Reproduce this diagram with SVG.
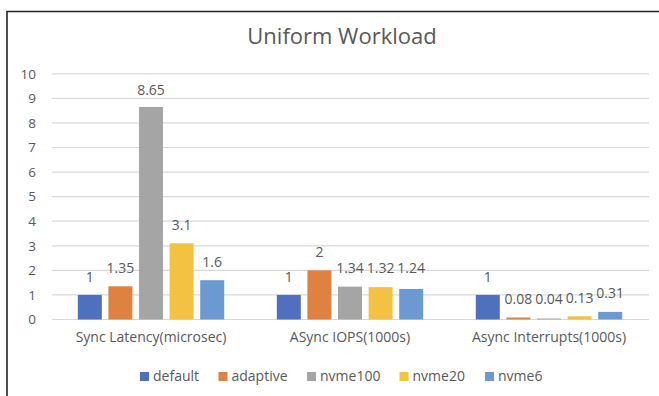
<svg xmlns="http://www.w3.org/2000/svg" width="659" height="396" viewBox="0 0 659 396">
<style>
text{font-family:"Open Sans","Liberation Sans",sans-serif;fill:#595959}
.t{font-size:22px}
.tk{font-size:13.5px;text-anchor:end}
.lb{font-size:14px;text-anchor:middle}
.cat{font-size:14px;text-anchor:middle}
.lg{font-size:14px}
.grid line{stroke:#D9D9D9;stroke-width:1.2}
.s1{fill:#4E70BE}.s2{fill:#E0823F}.s3{fill:#A5A5A5}.s4{fill:#F4C242}.s5{fill:#6A9AD1}
</style>
<rect width="659" height="396" fill="#fff"/>
<path d="M7 396V11.5H659" fill="none" stroke="#222" stroke-width="1.6"/>
<g id="title"><text class="t" x="342" y="44" text-anchor="middle">Uniform Workload</text></g>
<g id="gridlines" class="grid">
<line x1="52" x2="649" y1="73.8" y2="73.8"/>
<line x1="52" x2="649" y1="98.4" y2="98.4"/>
<line x1="52" x2="649" y1="122.9" y2="122.9"/>
<line x1="52" x2="649" y1="147.5" y2="147.5"/>
<line x1="52" x2="649" y1="172.1" y2="172.1"/>
<line x1="52" x2="649" y1="196.7" y2="196.7"/>
<line x1="52" x2="649" y1="221.2" y2="221.2"/>
<line x1="52" x2="649" y1="245.8" y2="245.8"/>
<line x1="52" x2="649" y1="270.4" y2="270.4"/>
<line x1="52" x2="649" y1="294.9" y2="294.9"/>
<line x1="52" x2="649" y1="319.5" y2="319.5"/>
</g>
<g id="y-axis">
<text class="tk" x="36" y="78.5">10</text>
<text class="tk" x="36" y="103">9</text>
<text class="tk" x="36" y="127.6">8</text>
<text class="tk" x="36" y="152.2">7</text>
<text class="tk" x="36" y="176.8">6</text>
<text class="tk" x="36" y="201.3">5</text>
<text class="tk" x="36" y="225.9">4</text>
<text class="tk" x="36" y="250.5">3</text>
<text class="tk" x="36" y="275">2</text>
<text class="tk" x="36" y="299.6">1</text>
<text class="tk" x="36" y="323.8">0</text>
</g>
<g id="series-default" class="s1">
<rect x="77.8" y="294.9" width="24" height="24.6"/>
<rect x="276.8" y="294.9" width="24" height="24.6"/>
<rect x="475.8" y="294.9" width="24" height="24.6"/>
<text class="lb" x="89.8" y="281.5">1</text>
<text class="lb" x="288.8" y="281.5">1</text>
<text class="lb" x="487.8" y="281.5">1</text>
</g>
<g id="series-adaptive" class="s2">
<rect x="108.4" y="286.3" width="24" height="33.2"/>
<rect x="307.4" y="270.4" width="24" height="49.1"/>
<rect x="506.4" y="317.5" width="24" height="2"/>
<text class="lb" x="120.4" y="273">1.35</text>
<text class="lb" x="319.4" y="257">2</text>
<text class="lb" x="518.4" y="304">0.08</text>
</g>
<g id="series-nvme100" class="s3">
<rect x="139" y="107" width="24" height="212.5"/>
<rect x="338" y="286.6" width="24" height="32.9"/>
<rect x="537" y="318.5" width="24" height="1"/>
<text class="lb" x="151" y="94.5">8.65</text>
<text class="lb" x="350" y="273">1.34</text>
<text class="lb" x="549" y="304">0.04</text>
</g>
<g id="series-nvme20" class="s4">
<rect x="169.6" y="243.3" width="24" height="76.2"/>
<rect x="368.6" y="287.1" width="24" height="32.4"/>
<rect x="567.6" y="316.3" width="24" height="3.2"/>
<text class="lb" x="181.6" y="230">3.1</text>
<text class="lb" x="380.6" y="273">1.32</text>
<text class="lb" x="579.6" y="303">0.13</text>
</g>
<g id="series-nvme6" class="s5">
<rect x="200.2" y="280.2" width="24" height="39.3"/>
<rect x="399.2" y="289" width="24" height="30.5"/>
<rect x="598.2" y="311.9" width="24" height="7.6"/>
<text class="lb" x="212.2" y="266.5">1.6</text>
<text class="lb" x="411.2" y="273">1.24</text>
<text class="lb" x="610.2" y="297.5">0.31</text>
</g>
<g id="x-axis">
<text class="cat" x="151" y="342">Sync Latency(microsec)</text>
<text class="cat" x="350" y="342">ASync IOPS(1000s)</text>
<text class="cat" x="549" y="342">Async Interrupts(1000s)</text>
</g>
<g id="legend">
<rect class="s1" x="140" y="372" width="9" height="9"/><text class="lg" x="153" y="381">default</text>
<rect class="s2" x="218.5" y="372" width="9" height="9"/><text class="lg" x="231.5" y="381">adaptive</text>
<rect class="s3" x="307" y="372" width="9" height="9"/><text class="lg" x="320" y="381">nvme100</text>
<rect class="s4" x="399.5" y="372" width="9" height="9"/><text class="lg" x="412.5" y="381">nvme20</text>
<rect class="s5" x="485" y="372" width="9" height="9"/><text class="lg" x="498" y="381">nvme6</text>
</g>
</svg>
